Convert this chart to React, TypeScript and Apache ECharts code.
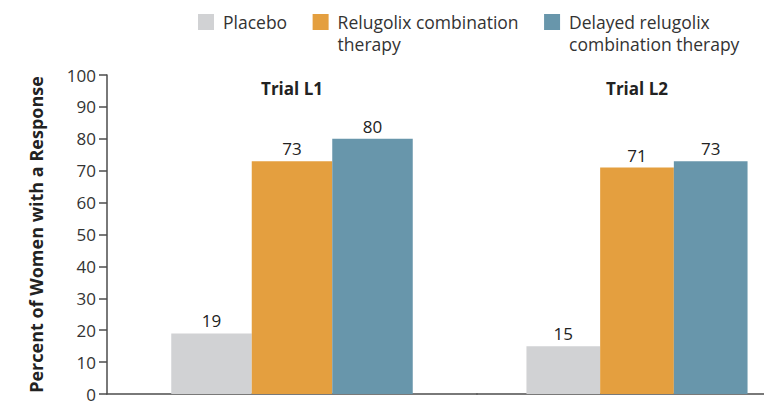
import React, { useEffect, useRef } from "react";
import * as echarts from "echarts";

const trials = ["Trial L1", "Trial L2"];
const seriesNames = [
  "Placebo",
  "Relugolix combination therapy",
  "Delayed relugolix combination therapy",
];
const legendLabels = [
  "Placebo\n ",
  "Relugolix combination\ntherapy",
  "Delayed relugolix\ncombination therapy",
];
const placebo = [19, 15];
const relugolix = [73, 71];
const delayed = [80, 73];
const yMin = 0;
const yMax = 100;
const yInterval = 10;
const yTitle = "Percent of Women with a Response";

const colors = ["#d1d2d4", "#e49f3f", "#6896ab"];
const values = [placebo, relugolix, delayed];
const barWidths = [80.5, 73.7];

export default function App() {
  const ref = useRef<HTMLDivElement>(null);
  useEffect(() => {
    if (!ref.current) return;
    const chart = echarts.init(ref.current, undefined, { renderer: "svg" });
    const axisLineStyle = { color: "#4d4d4d", width: 1.5 };
    const series: any[] = [];
    trials.forEach((_, gi) => {
      seriesNames.forEach((name, si) => {
        series.push({
          type: "bar",
          name,
          xAxisIndex: gi,
          yAxisIndex: gi,
          data: [values[si][gi]],
          barWidth: barWidths[gi],
          barGap: "0%",
          itemStyle: { color: colors[si] },
          label: {
            show: true,
            position: "top",
            distance: 4,
            fontSize: 17,
            color: "#222",
          },
        });
      });
    });
    chart.setOption({
      animation: false,
      textStyle: { fontFamily: "Open Sans" },
      legend: {
        left: 198,
        top: 11,
        padding: 0,
        icon: "path://M0,0H16V16H0Z M20,38",
        itemWidth: 20,
        itemHeight: 38,
        itemGap: 25.5,
        formatter: (n: string) => legendLabels[seriesNames.indexOf(n)],
        textStyle: { fontSize: 17.5, color: "#333", lineHeight: 22 },
        data: seriesNames,
      },
      grid: [
        { left: 107, top: 75, bottom: 7, width: 370, outerBoundsMode: "none" },
        { left: 477, top: 75, bottom: 7, width: 320, outerBoundsMode: "none" },
      ],
      xAxis: trials.map((t, gi) => ({
        type: "category",
        gridIndex: gi,
        data: [t],
        axisTick: { show: false },
        axisLabel: { show: false },
        axisLine: { lineStyle: axisLineStyle },
        name: t,
        nameLocation: "middle",
        nameGap: -314,
        nameTextStyle: { fontWeight: "bold", fontSize: 17, color: "#222" },
      })),
      yAxis: trials.map((_, gi) =>
        gi === 0
          ? {
              type: "value",
              gridIndex: 0,
              min: yMin,
              max: yMax,
              interval: yInterval,
              axisLine: { show: true, lineStyle: axisLineStyle },
              axisTick: { show: true, length: 8, lineStyle: axisLineStyle },
              axisLabel: { fontSize: 17, lineHeight: 12, color: "#333", margin: 11 },
              splitLine: { show: false },
              name: yTitle,
              nameLocation: "middle",
              nameRotate: 90,
              nameGap: 62,
              nameTextStyle: { fontWeight: "bold", fontSize: 18, color: "#222" },
            }
          : {
              type: "value",
              gridIndex: gi,
              min: yMin,
              max: yMax,
              interval: yInterval,
              show: false,
            }
      ),
      series,
    });
    return () => chart.dispose();
  }, []);
  return (
    <div
      ref={ref}
      style={{ position: "fixed", left: 0, top: 0, width: 764, height: 401, background: "#fff" }}
    />
  );
}
